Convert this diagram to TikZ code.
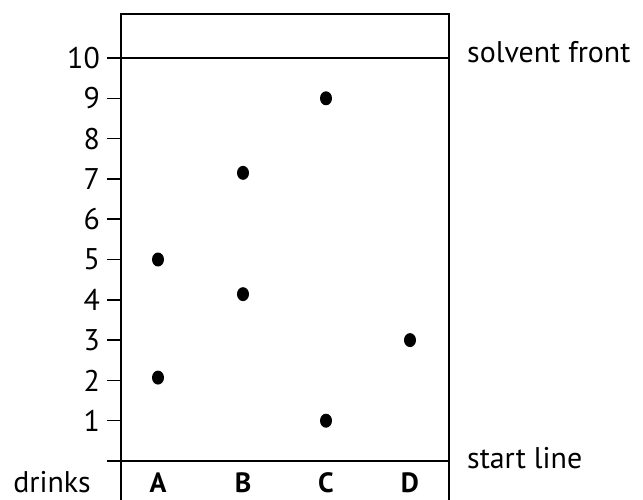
\documentclass[tikz,border=0pt]{standalone}
\usepackage{fontspec}
\setmainfont{PT Sans}
\begin{document}
\begin{tikzpicture}[x=1bp,y=-1bp,
  lbl/.style={font=\fontsize{30}{32}\selectfont, inner sep=0pt},
  col/.style={font=\fontsize{28}{32}\selectfont\bfseries, inner sep=0pt, anchor=base},
  frame/.style={line width=2pt},
  hline/.style={line width=1.5pt},
  tick/.style={line width=1.5pt}]
\useasboundingbox (0,0) rectangle (643,500);
% frame
\draw[frame] (121,500) -- (121,14) -- (449,14) -- (449,500);
% solvent front and start line
\coordinate (sfL) at (107,58);
\coordinate (sfR) at (449,58);
\coordinate (slL) at (107,461);
\coordinate (slR) at (449,461);
\draw[hline] (sfL) -- (sfR);
\draw[hline] (slL) -- (slR);
\node[lbl, anchor=base west] (sf) at (467,63) {solvent front};
\node[lbl, anchor=base west] (sl) at (467,468) {start line};
% ticks and labels
\foreach \v in {1,...,9} {
  \coordinate (t\v) at (107,{461-40.3*\v});
  \draw[tick] (t\v) -- ++(14,0);
}
\foreach \v in {1,...,10} {
  \node[lbl, anchor=east] (n\v) at (100,{461-40.3*\v}) {\v};
}
% drinks
\node[lbl, anchor=base east] (drinks) at (91,492) {drinks};
\node[col] (A) at (158,492) {A};
\node[col] (B) at (243,492) {B};
\node[col] (C) at (326,492) {C};
\node[col] (D) at (410,492) {D};
% spots
\foreach \x/\v in {158/5, 158/2.07, 243/7.15, 243/4.14, 326/9, 326/1, 410/3} {
  \fill (\x,{461-40.3*\v}) ellipse (6 and 7);
}
\end{tikzpicture}
\end{document}
